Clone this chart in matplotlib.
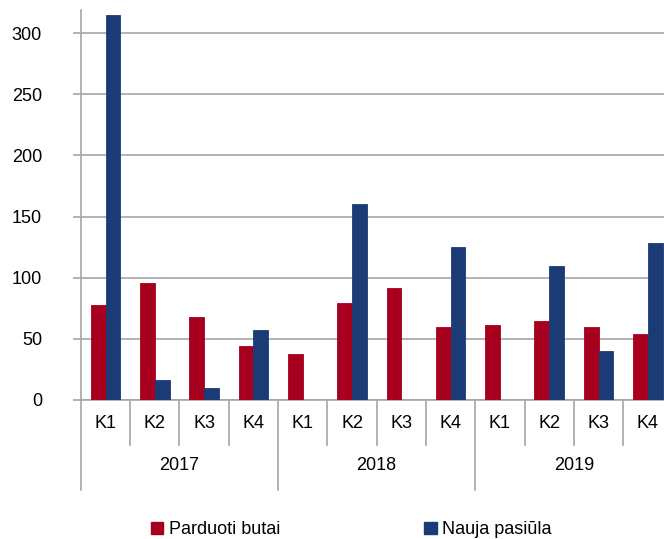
import numpy as np
import matplotlib.pyplot as plt
from matplotlib.patches import Patch

plt.rcParams['font.family'] = ['Liberation Sans Narrow', 'Liberation Sans', 'DejaVu Sans']

quarters = ["K1", "K2", "K3", "K4"] * 3
years = ["2017", "2018", "2019"]
parduoti = [78, 96, 68, 44, 38, 79, 92, 60, 61, 65, 60, 54]
pasiula = [315, 16, 10, 57, 0, 160, 0, 125, 0, 110, 40, 128]

red = "#A6001E"
blue = "#1B3B77"
grid = "#A6A6A6"

fig = plt.figure(figsize=(6.64, 5.39), dpi=100)
ax = fig.add_axes([0.1218, 0.2579, 0.891, 0.7236])

x = np.arange(len(quarters))
w = 0.3
ax.bar(x - w / 2, parduoti, w, color=red, edgecolor=red, linewidth=0.6, zorder=3)
ax.bar(x + w / 2, pasiula, w, color=blue, edgecolor=blue, linewidth=0.6, zorder=3)

ax.set_xlim(-0.5, 11.5)
ax.set_ylim(0, 319)
ax.set_yticks(range(0, 301, 50))
ax.yaxis.grid(True, color=grid, linewidth=1.2, zorder=0)
ax.tick_params(axis='y', length=6, color=grid, width=1.2, pad=22, labelsize=13)
ax.set_xticks([])

for s in ["top", "right"]:
    ax.spines[s].set_visible(False)
for s in ["left", "bottom"]:
    ax.spines[s].set_color(grid)
    ax.spines[s].set_linewidth(1.2)

trans = ax.get_xaxis_transform()
# category separators
for i in range(13):
    xs = i - 0.5
    y1 = -0.231 if i % 4 == 0 else -0.115
    ax.plot([xs, xs], [0, y1], color=grid, linewidth=1.2, transform=trans, clip_on=False)

for i, q in enumerate(quarters):
    ax.text(i, -0.059, q, transform=trans, ha='center', va='center', fontsize=13)
for j, yr in enumerate(years):
    ax.text(j * 4 + 1.5, -0.169, yr, transform=trans, ha='center', va='center', fontsize=13)

handles = [Patch(color=red), Patch(color=blue)]
fig.legend(handles, ["Parduoti butai", "Nauja pasiūla"], loc='center',
           bbox_to_anchor=(0.529, 0.017), ncol=2, frameon=False, fontsize=13,
           handlelength=0.7, handleheight=0.7, handletextpad=0.3, columnspacing=8)

fig.savefig("out.png", dpi=100)
